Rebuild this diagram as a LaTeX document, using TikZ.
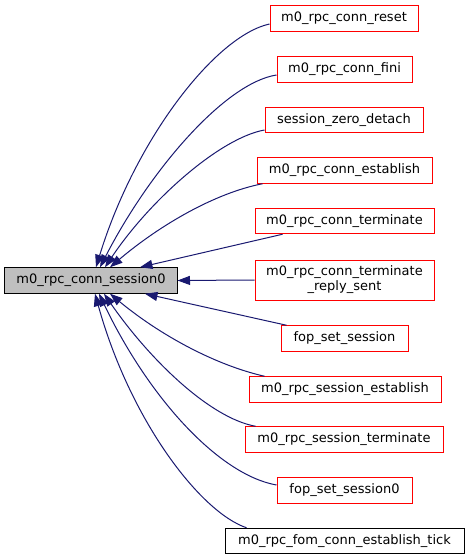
\documentclass[tikz,border=0pt]{standalone}
\usepackage{fontspec}
\setmainfont{DejaVu Sans}
\usetikzlibrary{arrows.meta}
\definecolor{edgec}{HTML}{191970}
\definecolor{boxred}{HTML}{FF0000}
\definecolor{mainfill}{HTML}{BFBFBF}
\begin{document}
\begin{tikzpicture}[x=1bp,y=-1bp,
  fn/.style={draw=boxred, line width=1bp, inner sep=0pt, minimum height=25.5bp,
    align=center, font=\fontsize{13bp}{15bp}\selectfont, text=black},
  edge/.style={draw=edgec, line width=1bp, -{Triangle[length=12.5bp,width=9bp]}, fill=none}]
\useasboundingbox (0,0) rectangle (469,560);
\node[fn, minimum width=148bp] (reset) at (344,18.5) {m0\_rpc\_conn\_reset};
\node[fn, minimum width=135bp] (fini) at (344.5,69.5) {m0\_rpc\_conn\_fini};
\node[fn, minimum width=158bp] (szd) at (344,120) {session\_zero\_detach};
\node[fn, minimum width=175bp] (est) at (344.5,170.5) {m0\_rpc\_conn\_establish};
\node[fn, minimum width=179bp] (term) at (344.5,221) {m0\_rpc\_conn\_terminate};
\node[fn, minimum width=179bp, minimum height=40bp] (reply) at (344.5,280) {m0\_rpc\_conn\_terminate\\\_reply\_sent};
\node[fn, minimum width=127bp] (fss) at (344.5,338.5) {fop\_set\_session};
\node[fn, minimum width=192bp] (sest) at (345,389.5) {m0\_rpc\_session\_establish};
\node[fn, minimum width=198bp] (sterm) at (344,439.5) {m0\_rpc\_session\_terminate};
\node[fn, minimum width=135bp] (fss0) at (344.5,490.5) {fop\_set\_session0};
\node[fn, draw=black, minimum width=239bp] (tick) at (344.5,541) {m0\_rpc\_fom\_conn\_establish\_tick};
\node[fn, draw=black, fill=mainfill, minimum width=172bp] (main) at (91,280.5) {m0\_rpc\_conn\_session0};

\draw[edge] ([yshift=-5.5bp]reset.west) .. controls (215,36) and (135,140) .. ([xshift=5bp]main.north);
\draw[edge] ([yshift=-5.5bp]fini.west) .. controls (225,83) and (150,170) .. ([xshift=9bp]main.north);
\draw[edge] ([yshift=-10bp]szd.west) .. controls (220,138) and (150,200) .. ([xshift=14bp]main.north);
\draw[edge] ([xshift=6bp]est.south west) .. controls (215,193) and (160,225) .. ([xshift=19bp]main.north);
\draw[edge] ([xshift=28bp]term.south west) -- ([xshift=49bp]main.north);
\draw[edge] (reply.west) -- (main.east);
\draw[edge] ([xshift=6bp]fss.north west) -- ([xshift=54bp]main.south);
\draw[edge] ([xshift=16bp]sest.north west) .. controls (215,365) and (160,335) .. ([xshift=19bp]main.south);
\draw[edge] ([xshift=11bp]sterm.north west) .. controls (210,418) and (150,360) .. ([xshift=13bp]main.south);
\draw[edge] ([yshift=5.5bp]fss0.west) .. controls (220,475) and (150,400) .. ([xshift=8bp]main.south);
\draw[edge] ([xshift=22bp]tick.north west) .. controls (200,512) and (130,420) .. ([xshift=4bp]main.south);
\end{tikzpicture}
\end{document}
